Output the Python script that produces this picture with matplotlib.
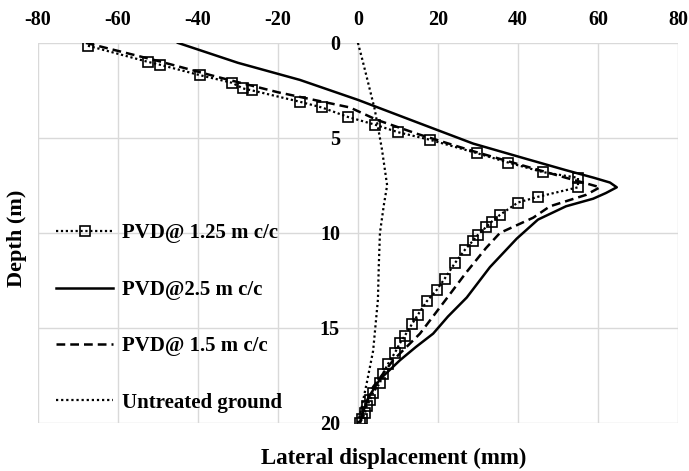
import numpy as np
import matplotlib.pyplot as plt

plt.rcParams['font.family'] = ['Liberation Serif', 'DejaVu Serif']
plt.rcParams['font.weight'] = 'bold'
plt.rcParams['axes.unicode_minus'] = False

# PVD @ 1.25 m c/c (square markers)
x125 = [-67.5, -52.5, -49.5, -39.5, -31.5, -28.7, -26.5, -14.5, -9, -2.5, 4.2, 10, 18, 29.7, 37.6,
        46.2, 55, 55, 45, 40, 35.5, 33.5, 32, 30, 28.8, 26.7, 24.2, 21.7, 19.7, 17.2, 15, 13.5,
        11.75, 10.5, 9.25, 7.5, 6.25, 5.5, 3.8, 3, 2.2, 1.75, 1, 0.5]
d125 = [0.15, 1.0, 1.15, 1.7, 2.1, 2.4, 2.5, 3.1, 3.4, 3.9, 4.3, 4.7, 5.1, 5.8, 6.3,
        6.8, 7.1, 7.6, 8.1, 8.4, 9.05, 9.4, 9.7, 10.1, 10.4, 10.9, 11.6, 12.4, 13.0, 13.6, 14.3, 14.8,
        15.4, 15.8, 16.3, 16.9, 17.4, 17.9, 18.4, 18.8, 19.1, 19.5, 19.8, 20.0]

# PVD @ 2.5 m c/c
x25 = [-45, -30, -14.5, 0, 15, 28.8, 42, 52, 59, 63, 64.7, 62, 58.8, 52, 45, 39.7, 33, 27.2, 22.5, 18.8, 14.5, 10.5, 5.5, 2.8, 1.3, 0.5]
d25 = [0, 1.05, 1.95, 3.0, 4.2, 5.3, 6.1, 6.7, 7.1, 7.35, 7.6, 7.9, 8.2, 8.6, 9.3, 10.3, 11.8, 13.4, 14.4, 15.3, 16.0, 16.7, 17.7, 18.6, 19.4, 20.0]

# PVD @ 1.5 m c/c
x15 = [-68, -50, -35, -20, -2, 4.7, 15, 28.8, 42, 52, 58, 60.5, 57, 48, 43.8, 35.5, 32, 27, 22, 15.5, 8.8, 3.8, 1.5, 0.5]
d15 = [0, 0.95, 1.8, 2.6, 3.4, 4.05, 4.8, 5.7, 6.5, 7.1, 7.45, 7.6, 8.0, 8.6, 9.2, 10.0, 10.8, 12.1, 13.5, 15.3, 16.7, 18.1, 19.2, 20.0]

# Untreated ground
xu = [0, 1.0, 2.2, 4.2, 6.0, 7.3, 6.5, 5.5, 5.2, 5.0, 3.8, 2.2, 1.0, 0]
du = [0, 0.8, 1.8, 3.5, 5.6, 7.5, 8.5, 10.0, 11.8, 13.5, 16.2, 17.9, 19.1, 20.0]

fig = plt.figure(figsize=(6.89, 4.71), dpi=100)
ax = fig.add_axes([0.055, 0.102, 0.929, 0.807])

ax.plot(x125, d125, color='black', lw=1.6, ls=(0, (1, 1.2)), marker='s', ms=7,
        mfc='none', mec='black', mew=1.2, label='PVD@ 1.25 m c/c')
ax.plot(x25, d25, color='black', lw=1.8, label='PVD@2.5 m c/c')
ax.plot(x15, d15, color='black', lw=1.8, ls=(0, (3.5, 2)), label='PVD@ 1.5 m c/c')
ax.plot(xu, du, color='black', lw=1.6, ls=(0, (1, 1.3)), label='Untreated ground')

ax.set_xlim(-80, 80)
ax.set_ylim(20, 0)
ax.set_xticks(np.arange(-80, 81, 20))
ax.set_yticks([0, 5, 10, 15, 20])
ax.grid(True, color='#d9d9d9', lw=1)
for s in ax.spines.values():
    s.set_visible(False)
ax.spines['left'].set_position(('data', 0))
ax.xaxis.tick_top()
ax.tick_params(axis='x', length=0, pad=9, labelsize=14.5)
ax.tick_params(axis='y', length=0, pad=13, labelsize=14.5)
for lab in ax.get_xticklabels() + ax.get_yticklabels():
    lab.set_fontweight('bold')

ax.legend(loc='center left', bbox_to_anchor=(0.029, 0.276), frameon=False, fontsize=15,
          labelspacing=1.75, handlelength=2.7, handletextpad=0.45, borderaxespad=0, borderpad=0)

fig.text(0.571, 0.027, 'Lateral displacement (mm)', ha='center', va='center', fontsize=16.5, fontweight='bold')
fig.text(0.025, 0.493, 'Depth (m)', ha='center', va='center', rotation=90, fontsize=16, fontweight='bold')

fig.savefig('out.png', dpi=100)
